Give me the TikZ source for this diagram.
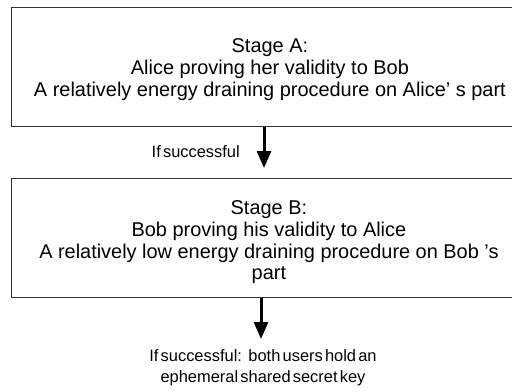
\documentclass[tikz,border=0pt]{standalone}
\usepackage{fontspec}
\setmainfont{Liberation Sans}
\usetikzlibrary{arrows.meta}
\begin{document}
\begin{tikzpicture}[x=1bp,y=-1bp,
  stagebox/.style={draw=black!80, line width=1.3bp, minimum width=507.5bp,
    minimum height=119bp, inner sep=0pt, anchor=north west},
  stagetext/.style={align=center, inner sep=0pt,
    font=\fontsize{20}{22}\selectfont},
  note/.style={align=center, inner sep=0pt,
    font=\fontsize{16.5}{21.5}\selectfont,
    execute at begin node={\spaceskip=2.2bp plus 1bp\relax}},
  flow/.style={line width=3bp, -{Triangle[width=14bp,length=17bp]}}]
\useasboundingbox (0,0) rectangle (512,391);
\clip (0,0) rectangle (512,391);
% the two stages
\node[stagebox] (boxA) at (10.5,6.5) {};
\node[stagebox] (boxB) at (10.5,178) {};
\node[stagetext] (textA) at ([xshift=5bp,yshift=-3bp]boxA.center)
  {Stage A:\\ Alice proving her validity to Bob\\
   A relatively energy draining procedure on Alice’ s part};
\node[stagetext] (textB) at ([xshift=4bp,yshift=-4bp]boxB.center)
  {Stage B:\\ Bob proving his validity to Alice\\
   A relatively low energy draining procedure on Bob ’s\\ part};
% conditions on the transitions
\node[note, anchor=east] (cond) at (240,152) {If successful};
\node[note, anchor=north] (result) at (263,349)
  {If successful:\, both users hold an\\ ephemeral shared secret key};
% transitions
\draw[flow] (boxA.south -| 264,0) -- ([yshift=10bp]boxB.north -| 264,0);
\draw[flow] (boxB.south -| 261,0) -- ([yshift=10bp]result.north -| 261,0);
\end{tikzpicture}
\end{document}
